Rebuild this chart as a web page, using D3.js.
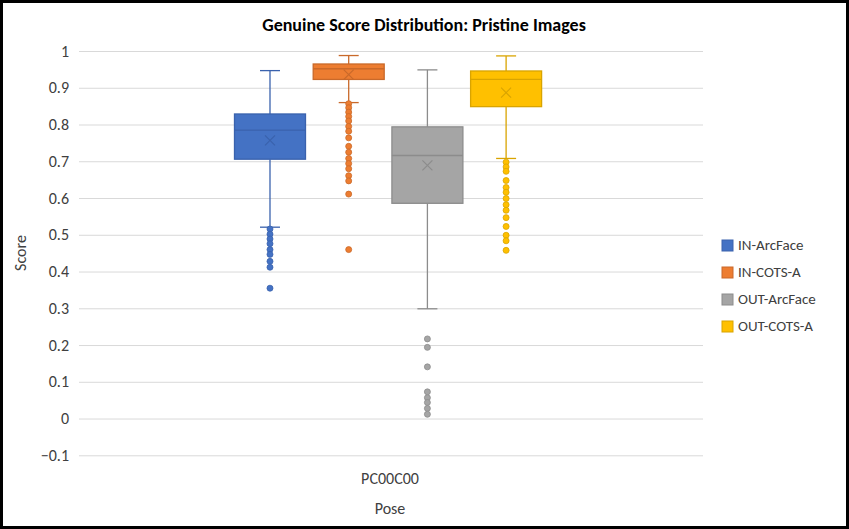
<!DOCTYPE html>
<html><head><meta charset="utf-8">
<script src="https://cdn.jsdelivr.net/npm/d3@7"></script>
<style>body{margin:0;background:#fff;font-family:Calibri,Carlito,Lato,"Liberation Sans",sans-serif}</style>
</head><body><div id="chart"></div>
<script>
const series = ["IN-ArcFace", "IN-COTS-A", "OUT-ArcFace", "OUT-COTS-A"];
const colors = ["#4472C4", "#ED7D31", "#A5A5A5", "#FFC000"];
const strokes = ["#3A62AD", "#C9692A", "#8C8C8C", "#D9A400"];
// [lowWhisker, q1, median, q3, highWhisker, mean]
const stats = [
  [0.522, 0.707, 0.786, 0.830, 0.948, 0.758],
  [0.861, 0.924, 0.953, 0.966, 0.989, 0.937],
  [0.300, 0.587, 0.717, 0.795, 0.950, 0.690],
  [0.709, 0.850, 0.924, 0.947, 0.988, 0.888]
];
const outliers = [
  [0.517, 0.503, 0.490, 0.477, 0.461, 0.448, 0.429, 0.413, 0.356],
  [0.858, 0.847, 0.835, 0.823, 0.811, 0.796, 0.783, 0.765, 0.742, 0.726, 0.709, 0.695, 0.681, 0.662, 0.648, 0.612, 0.461],
  [0.218, 0.195, 0.142, 0.074, 0.058, 0.045, 0.029, 0.013],
  [0.699, 0.686, 0.674, 0.649, 0.630, 0.617, 0.600, 0.583, 0.568, 0.548, 0.524, 0.500, 0.485, 0.459]
];
const yTicks = [-0.1, 0, 0.1, 0.2, 0.3, 0.4, 0.5, 0.6, 0.7, 0.8, 0.9, 1];
const category = "PC00C00";

const W = 849, H = 529;
const svg = d3.select("#chart").append("svg").attr("width", W).attr("height", H);
svg.append("rect").attr("x", 1.5).attr("y", 1.5).attr("width", W - 3).attr("height", H - 3)
  .attr("fill", "#fff").attr("stroke", "#000").attr("stroke-width", 3);

const x0 = 79, x1 = 703;
const y = d3.scaleLinear().domain([-0.1, 1]).range([455.8, 51.5]);
const xb = d3.scaleBand().domain(series).range([234.5, 541.6]).paddingInner(0.098);

svg.append("g").selectAll("line").data(yTicks).join("line")
  .attr("x1", x0).attr("x2", x1).attr("y1", d => y(d)).attr("y2", d => y(d))
  .attr("stroke", "#D9D9D9").attr("stroke-width", 1);
svg.append("g").selectAll("text").data(yTicks).join("text")
  .attr("x", 69).attr("y", d => y(d) + 5).attr("text-anchor", "end")
  .attr("font-size", 16).attr("fill", "#404040").text(d => d3.format("")(+d.toFixed(1)));

svg.append("text").attr("x", 424).attr("y", 31).attr("text-anchor", "middle")
  .attr("font-size", 18).attr("font-weight", "bold").attr("fill", "#000")
  .text("Genuine Score Distribution: Pristine Images");
svg.append("text").attr("transform", "translate(26,253) rotate(-90)").attr("text-anchor", "middle")
  .attr("font-size", 16).attr("fill", "#404040").text("Score");
svg.append("text").attr("x", 390).attr("y", 484).attr("text-anchor", "middle")
  .attr("font-size", 16).attr("fill", "#404040").text(category);
svg.append("text").attr("x", 390).attr("y", 514).attr("text-anchor", "middle")
  .attr("font-size", 16).attr("fill", "#404040").text("Pose");

series.forEach((s, i) => {
  const [lo, q1, med, q3, hi, mean] = stats[i];
  const bx = xb(s), bw = xb.bandwidth(), cx = bx + bw / 2;
  const g = svg.append("g");
  const st = strokes[i];
  g.append("line").attr("x1", cx).attr("x2", cx).attr("y1", y(hi)).attr("y2", y(q3)).attr("stroke", st).attr("stroke-width", 1.3);
  g.append("line").attr("x1", cx).attr("x2", cx).attr("y1", y(q1)).attr("y2", y(lo)).attr("stroke", st).attr("stroke-width", 1.3);
  [hi, lo].forEach(v => g.append("line").attr("x1", cx - 10).attr("x2", cx + 10)
    .attr("y1", y(v)).attr("y2", y(v)).attr("stroke", st).attr("stroke-width", 1.3));
  g.append("rect").attr("x", bx).attr("y", y(q3)).attr("width", bw).attr("height", y(q1) - y(q3))
    .attr("fill", colors[i]).attr("stroke", st).attr("stroke-width", 1.3);
  g.append("line").attr("x1", bx).attr("x2", bx + bw).attr("y1", y(med)).attr("y2", y(med)).attr("stroke", st).attr("stroke-width", 1.3);
  const m = 5, my = y(mean);
  g.append("path").attr("d", `M${cx - m},${my - m}L${cx + m},${my + m}M${cx - m},${my + m}L${cx + m},${my - m}`)
    .attr("stroke", st).attr("stroke-width", 1.2);
  g.selectAll("circle").data(outliers[i]).join("circle")
    .attr("cx", cx).attr("cy", d => y(d)).attr("r", 3).attr("fill", colors[i]).attr("stroke", st).attr("stroke-width", 0.8);
});

const lg = svg.append("g").attr("transform", "translate(722,240)");
series.forEach((s, i) => {
  const row = lg.append("g").attr("transform", `translate(0,${i * 27})`);
  row.append("rect").attr("width", 11).attr("height", 11).attr("fill", colors[i]).attr("stroke", strokes[i]);
  row.append("text").attr("x", 16).attr("y", 10).attr("font-size", 15).attr("fill", "#404040").text(s);
});
</script></body></html>
